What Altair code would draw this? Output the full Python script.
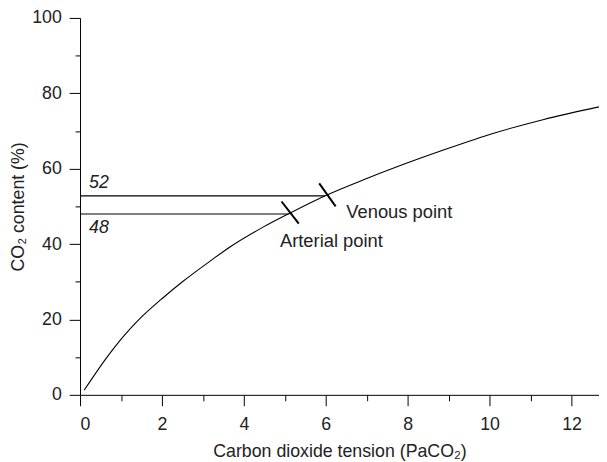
import altair as alt
import pandas as pd

# CO2 dissociation curve
curve_x = [0.1, 0.66, 1.06, 1.46, 2.02, 2.5, 3.19, 3.67, 4.47, 5.12, 6.0, 7.0, 7.69, 8.89, 10.1, 11.3, 12.67]
curve_y = [1.2, 10.0, 15.5, 20.2, 25.7, 30.0, 35.6, 39.3, 44.5, 48.2, 52.9, 57.4, 60.3, 65.0, 69.4, 73.0, 76.4]

# horizontal reference levels
level_values = [52.8, 48.0]
level_ends = [5.98, 5.1]
level_labels = ["52", "48"]
level_label_x = [0.22, 0.22]
level_label_y = [55.0, 43.0]

# marked points
point_names = ["Venous point", "Arterial point"]
point_label_x = [6.5, 4.88]
point_label_y = [46.9, 39.1]
slash_x1 = [5.84, 4.92]
slash_x2 = [6.24, 5.34]
slash_y1 = [56.1, 51.3]
slash_y2 = [50.0, 45.4]

# axis ticks
x_major = [0, 2, 4, 6, 8, 10, 12]
x_minor = [1, 3, 5, 7, 9, 11]
y_major = [0, 20, 40, 60, 80, 100]
y_minor = [10, 30, 50, 70, 90]

FONT = "Liberation Sans"
TXT = "#222222"

curve_df = pd.DataFrame({"x": curve_x, "y": curve_y})
level_df = pd.DataFrame({"y": level_values, "x0": [0, 0], "x1": level_ends})
level_lab_df = pd.DataFrame({"x": level_label_x, "y": level_label_y, "t": level_labels})
point_df = pd.DataFrame({"x": point_label_x, "y": point_label_y, "t": point_names})
slash_df = pd.DataFrame({"x": slash_x1, "x2": slash_x2, "y": slash_y1, "y2": slash_y2})

xscale = alt.Scale(domain=[0, 12.67], nice=False, zero=False)
yscale = alt.Scale(domain=[0, 100], nice=False)

major_x_axis = alt.Axis(values=x_major, tickSize=11, labelPadding=10, orient="bottom",
                        title="Carbon dioxide tension (PaCO₂)", titlePadding=9)
major_y_axis = alt.Axis(values=y_major, tickSize=11, labelPadding=8, orient="left",
                        title="CO₂ content (%)", titlePadding=4)
minor_x_axis = alt.Axis(values=x_minor, tickSize=6, labels=False, domain=False,
                        title=None, orient="bottom")
minor_y_axis = alt.Axis(values=y_minor, tickSize=5, labels=False, domain=False,
                        title=None, orient="left")

curve = alt.Chart(curve_df).mark_line(color="black", strokeWidth=1.1, interpolate="monotone").encode(
    x=alt.X("x:Q", scale=xscale, axis=major_x_axis),
    y=alt.Y("y:Q", scale=yscale, axis=major_y_axis),
)

levels = alt.Chart(level_df).mark_rule(color="black", strokeWidth=1.1).encode(
    x=alt.X("x0:Q", scale=xscale, axis=minor_x_axis),
    x2="x1:Q",
    y=alt.Y("y:Q", scale=yscale, axis=minor_y_axis),
)

slashes = alt.Chart(slash_df).mark_rule(color="black", strokeWidth=2).encode(
    x=alt.X("x:Q", scale=xscale, axis=None),
    x2="x2:Q",
    y=alt.Y("y:Q", scale=yscale, axis=None),
    y2="y2:Q",
)

level_text = alt.Chart(level_lab_df).mark_text(
    font=FONT, fontSize=18, fontStyle="italic", color=TXT, align="left", baseline="alphabetic"
).encode(
    x=alt.X("x:Q", scale=xscale, axis=None),
    y=alt.Y("y:Q", scale=yscale, axis=None),
    text="t:N",
)

point_text = alt.Chart(point_df).mark_text(
    font=FONT, fontSize=18.6, color=TXT, align="left", baseline="alphabetic"
).encode(
    x=alt.X("x:Q", scale=xscale, axis=None),
    y=alt.Y("y:Q", scale=yscale, axis=None),
    text="t:N",
)

chart = alt.layer(curve, levels, slashes, level_text, point_text).resolve_axis(
    x="independent", y="independent"
).properties(
    width=526,
    height=382,
    autosize=alt.AutoSizeParams(type="none"),
    padding={"left": 73, "top": 7, "right": 0, "bottom": 65},
).configure_view(stroke=None).configure_axis(
    grid=False,
    domainColor="black",
    tickColor="black",
    domainWidth=1,
    tickWidth=1,
    labelFont=FONT,
    labelFontSize=18,
    labelColor=TXT,
    titleFont=FONT,
    titleFontSize=18,
    titleFontWeight="normal",
    titleColor=TXT,
)

chart.save("out.html", embed_options={"renderer": "svg", "actions": False})
